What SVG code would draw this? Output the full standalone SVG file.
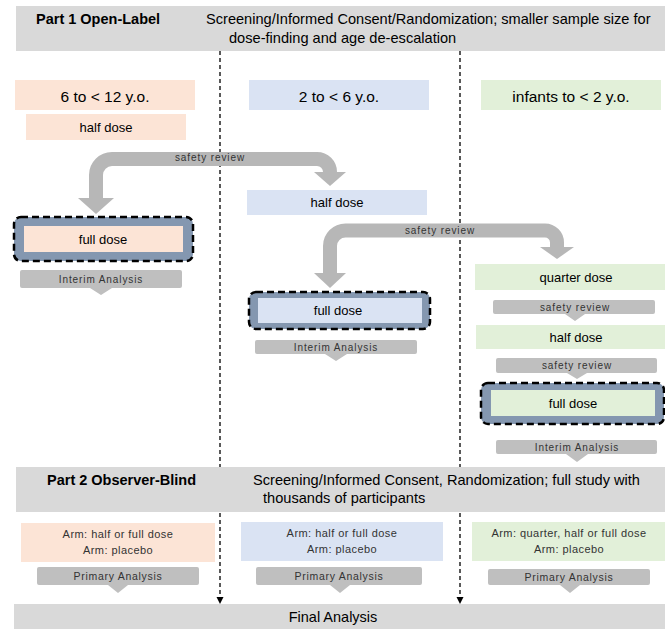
<svg xmlns="http://www.w3.org/2000/svg" width="665" height="629" viewBox="0 0 665 629">
<style>
text{font-family:"Liberation Sans",Arial,sans-serif;fill:#000}
.banner{fill:#d9d9d9}
.peach{fill:#fce4d6}
.blue{fill:#dae3f3}
.green{fill:#e2f0d9}
.bar{fill:#bfbfbf}
.frame{fill:#8497b0;stroke:#000;stroke-width:2.5;stroke-dasharray:7 4}
.band{fill:none;stroke:#b7b7b7;stroke-width:14}
.head{fill:#b7b7b7}
.div{stroke:#000;stroke-width:1.3;stroke-dasharray:4 3;fill:none}
.t16{font-size:15.5px;text-anchor:middle}
.t13{font-size:13px;text-anchor:middle}
.small{font-size:10px;fill:#333;letter-spacing:0.9px;text-anchor:middle}
.arm{font-size:11px;fill:#333;letter-spacing:0.45px;text-anchor:middle}
.prim{font-size:10.5px;fill:#333;letter-spacing:0.7px;text-anchor:middle}
.bold{font-size:14.5px;font-weight:bold}
.reg{font-size:14.6px}
</style>

<g id="dividers">
<line class="div" x1="220" y1="51" x2="220" y2="598"/>
<path d="M216.5,597 L223.5,597 L220,604 Z" fill="#000"/>
<line class="div" x1="460" y1="51" x2="460" y2="598"/>
<path d="M456.5,597 L463.5,597 L460,604 Z" fill="#000"/>
</g>

<g id="part1">
<rect class="banner" x="16" y="6" width="649" height="45"/>
<text class="bold" x="36" y="24">Part 1 Open-Label</text>
<text class="reg" x="206" y="24">Screening/Informed Consent/Randomization; smaller sample size for</text>
<text class="reg" x="229" y="43">dose-finding and age de-escalation</text>
</g>

<g id="age-6-12">
<rect class="peach" x="15" y="80" width="180" height="30"/>
<text class="t16" x="105" y="101.5">6 to &lt; 12 y.o.</text>
</g>
<g id="age-2-6">
<rect class="blue" x="249" y="80" width="180" height="30"/>
<text class="t16" x="339" y="101.5">2 to &lt; 6 y.o.</text>
</g>
<g id="age-infants">
<rect class="green" x="481" y="80" width="180" height="30"/>
<text class="t16" x="571" y="101.5">infants to &lt; 2 y.o.</text>
</g>

<g id="half-dose-older">
<rect class="peach" x="26" y="114" width="160" height="26"/>
<text class="t13" x="106" y="131.5">half dose</text>
</g>

<g id="connectors">
<path class="band" d="M96,199 V175 A16,16 0 0 1 112,159 H317 A13,13 0 0 1 330,172 V173"/>
<path class="head" d="M78,198 L114,198 L96,214 Z"/>
<path class="head" d="M314,172 L346,172 L330,186 Z"/>
<text class="small" x="210" y="161">safety review</text>
<path class="band" d="M330,274 V246 A15.5,15.5 0 0 1 345.5,230.5 H545 A12,12 0 0 1 557,242.5 V248"/>
<path class="head" d="M314,273 L346,273 L330,288 Z"/>
<path class="head" d="M540,247 L574,247 L557,259 Z"/>
<text class="small" x="440" y="233.5">safety review</text>
</g>

<g id="half-dose-mid">
<rect class="blue" x="247" y="190" width="180" height="25"/>
<text class="t13" x="337" y="207">half dose</text>
</g>

<g id="full-dose-older">
<rect class="frame" x="14" y="217" width="179" height="44" rx="7"/>
<rect class="peach" x="24" y="226" width="159" height="26"/>
<text class="t13" x="103" y="243.5">full dose</text>
</g>
<g id="interim-older">
<path class="bar" d="M22,270 H180 Q182,270 182,272 V286 Q182,288 180,288 H112 L101,295 L90,288 H22 Q20,288 20,286 V272 Q20,270 22,270 Z"/>
<text class="small" x="101" y="282.5">Interim Analysis</text>
</g>

<g id="full-dose-mid">
<rect class="frame" x="249" y="292" width="181" height="37" rx="7"/>
<rect class="blue" x="258" y="298" width="164" height="25"/>
<text class="t13" x="338" y="315">full dose</text>
</g>
<g id="interim-mid">
<path class="bar" d="M257,340 H415 Q417,340 417,342 V352 Q417,354 415,354 H347 L336,361 L325,354 H257 Q255,354 255,352 V342 Q255,340 257,340 Z"/>
<text class="small" x="336" y="350.5">Interim Analysis</text>
</g>

<g id="quarter-dose-infants">
<rect class="green" x="475" y="264" width="202" height="26"/>
<text class="t13" x="576" y="281.5">quarter dose</text>
</g>
<g id="safety-infants-1">
<path class="bar" d="M495,300 H653 Q655,300 655,302 V312 Q655,314 653,314 H585 L575,321 L565,314 H495 Q493,314 493,312 V302 Q493,300 495,300 Z"/>
<text class="small" x="575" y="310.5">safety review</text>
</g>
<g id="half-dose-infants">
<rect class="green" x="476" y="325" width="201" height="24"/>
<text class="t13" x="576" y="341.5">half dose</text>
</g>
<g id="safety-infants-2">
<path class="bar" d="M498,358 H655 Q657,358 657,360 V371 Q657,373 655,373 H587 L577,379 L567,373 H498 Q496,373 496,371 V360 Q496,358 498,358 Z"/>
<text class="small" x="577" y="369">safety review</text>
</g>
<g id="full-dose-infants">
<rect class="frame" x="481" y="383" width="183" height="41" rx="7"/>
<rect class="green" x="491" y="390" width="164" height="26"/>
<text class="t13" x="573" y="407.5">full dose</text>
</g>
<g id="interim-infants">
<path class="bar" d="M498,440 H655 Q657,440 657,442 V452 Q657,454 655,454 H588 L577,462 L566,454 H498 Q496,454 496,452 V442 Q496,440 498,440 Z"/>
<text class="small" x="577" y="450.5">Interim Analysis</text>
</g>

<g id="part2">
<rect class="banner" x="16" y="467" width="649" height="45"/>
<text class="bold" x="47" y="485">Part 2 Observer-Blind</text>
<text class="reg" x="253" y="485">Screening/Informed Consent, Randomization; full study with</text>
<text class="reg" x="263" y="503">thousands of participants</text>
</g>

<g id="arms-older">
<rect class="peach" x="21" y="523" width="194" height="39"/>
<text class="arm" x="118" y="537.5">Arm: half or full dose</text>
<text class="arm" x="118" y="553.5">Arm: placebo</text>
</g>
<g id="arms-mid">
<rect class="blue" x="241" y="522" width="202" height="39"/>
<text class="arm" x="342" y="537">Arm: half or full dose</text>
<text class="arm" x="342" y="553">Arm: placebo</text>
</g>
<g id="arms-infants">
<rect class="green" x="472" y="522" width="205" height="39"/>
<text class="arm" x="569" y="537">Arm: quarter, half or full dose</text>
<text class="arm" x="569" y="553">Arm: placebo</text>
</g>

<g id="primary-older">
<path class="bar" d="M39,567 H197 Q199,567 199,569 V583 Q199,585 197,585 H128 L118,593 L108,585 H39 Q37,585 37,583 V569 Q37,567 39,567 Z"/>
<text class="prim" x="118" y="580">Primary Analysis</text>
</g>
<g id="primary-mid">
<path class="bar" d="M258,567 H420 Q422,567 422,569 V583 Q422,585 420,585 H350 L340,593 L330,585 H258 Q256,585 256,583 V569 Q256,567 258,567 Z"/>
<text class="prim" x="339" y="580">Primary Analysis</text>
</g>
<g id="primary-infants">
<path class="bar" d="M490,569 H648 Q650,569 650,571 V583 Q650,585 648,585 H580 L570,593 L560,585 H490 Q488,585 488,583 V571 Q488,569 490,569 Z"/>
<text class="prim" x="569" y="581">Primary Analysis</text>
</g>

<g id="final">
<rect class="banner" x="14" y="604" width="651" height="25"/>
<text x="333" y="622" font-size="14.5" text-anchor="middle">Final Analysis</text>
</g>
</svg>
